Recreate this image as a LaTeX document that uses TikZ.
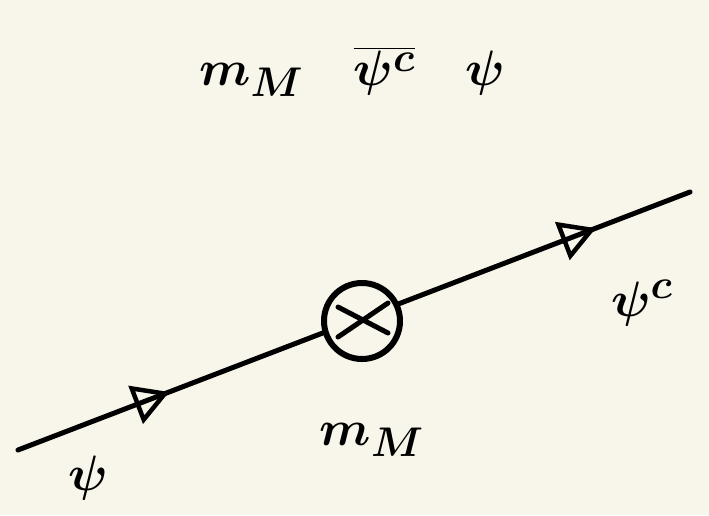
\documentclass[tikz,border=0pt]{standalone}
\usetikzlibrary{arrows.meta,decorations.markings,calc}
\definecolor{paper}{RGB}{248,246,235}
\definecolor{ink}{RGB}{0,0,0}
\tikzset{
  fermion/.style={draw=ink, line width=5pt, line cap=round,
    postaction={decorate, decoration={markings,
      mark=at position 0.225 with {\arrow[line width=4.5pt]{Triangle[open,length=36pt,width=40pt]}},
      mark=at position 0.86 with {\arrow[line width=4.5pt]{Triangle[open,length=36pt,width=40pt]}}}}},
  vertexc/.style={circle, draw=ink, line width=6pt, fill=paper, minimum size=76pt, inner sep=0pt},
  lbl/.style={text=ink, font=\Huge\boldmath, scale=2},
}
\begin{document}
\begin{tikzpicture}[x=1pt,y=-1pt]
\fill[paper] (0,0) rectangle (709,515);
\useasboundingbox (0,0) rectangle (709,515);
\coordinate (a) at (18,450);
\coordinate (b) at (690,192);
\draw[fermion] (a) -- (b);
\node[vertexc] (v) at (362,321) {};
\draw[ink, line width=5pt, line cap=round] ($(v)+(-24,-14)$) -- ($(v)+(26,12)$);
\draw[ink, line width=5pt, line cap=round] ($(v)+(-24,16)$) -- ($(v)+(26,-18)$);
\node[lbl] (top) at (352,72) {$m_M\quad\overline{\psi^c}\quad\psi$};
\node[lbl] (la) at (88,478) {$\psi$};
\node[lbl] (lb) at (642,303) {$\psi^c$};
\node[lbl] (lv) at (372,440) {$m_M$};
\end{tikzpicture}
\end{document}
